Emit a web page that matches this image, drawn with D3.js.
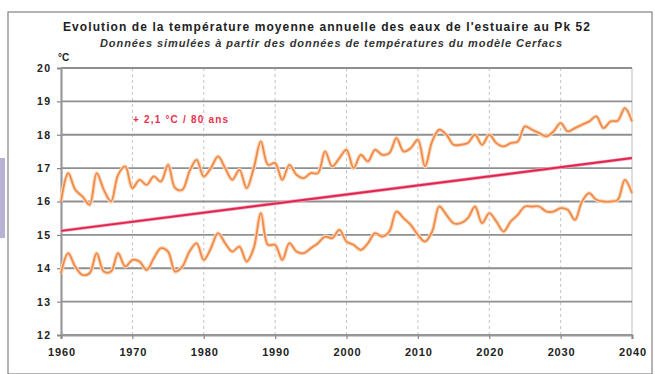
<!DOCTYPE html>
<html><head><meta charset="utf-8">
<script src="https://cdn.jsdelivr.net/npm/d3@7"></script>
<style>body{margin:0;background:#fff}svg{display:block}text{font-family:"Liberation Sans",Arial,sans-serif}</style>
</head><body>
<svg id="c" width="655" height="374"></svg>
<script>
const years = d3.range(1960, 2041);
const upperSeries = [16.0,16.85,16.35,16.15,15.9,16.85,16.35,16.0,16.8,17.05,
16.4,16.65,16.5,16.75,16.6,17.1,16.4,16.35,16.9,17.25,
16.75,17.0,17.35,17.0,16.65,16.95,16.4,17.0,17.8,17.1,
17.15,16.65,17.1,16.8,16.7,16.85,16.85,17.5,17.05,17.3,
17.55,17.0,17.4,17.2,17.55,17.4,17.45,17.9,17.5,17.6,
17.85,17.05,17.8,18.15,18.0,17.7,17.7,17.75,18.0,17.7,
18.0,17.75,17.65,17.75,17.8,18.25,18.15,18.05,17.95,18.1,
18.35,18.1,18.2,18.3,18.4,18.55,18.2,18.4,18.42,18.8,18.4];
const lowerSeries = [13.85,14.45,14.05,13.8,13.85,14.45,13.9,13.9,14.45,14.05,
14.25,14.2,13.95,14.3,14.6,14.5,13.9,14.05,14.5,14.75,
14.25,14.6,15.05,14.75,14.5,14.65,14.2,14.6,15.65,14.7,
14.7,14.25,14.75,14.5,14.45,14.6,14.75,14.95,14.9,15.15,
14.8,14.7,14.55,14.75,15.05,14.95,15.1,15.7,15.5,15.3,
15.0,14.8,15.1,15.85,15.6,15.35,15.35,15.5,15.85,15.35,
15.65,15.4,15.1,15.4,15.6,15.85,15.85,15.85,15.7,15.7,
15.8,15.75,15.45,16.0,16.25,16.05,16.0,16.0,16.05,16.65,16.25];
const trendYears = [1960, 2040];
const trendValues = [15.12, 17.3];
const xTicks = [1960,1970,1980,1990,2000,2010,2020,2030,2040];
const yTicks = [12,13,14,15,16,17,18,19,20];
const titleText = "Evolution de la température moyenne annuelle des eaux de l'estuaire au Pk 52";
const subtitleText = "Données simulées à partir des données de températures du modèle Cerfacs";
const trendLabel = "+ 2,1 °C / 80 ans";
const unitLabel = "°C";

const svg = d3.select("#c");
const x = d3.scaleLinear().domain([1960, 2040]).range([61, 632]);
const y = d3.scaleLinear().domain([12, 20]).range([335, 68]);

// page artefacts
svg.append("rect").attr("x",0).attr("y",158).attr("width",5).attr("height",80).attr("fill","#b9b2d6");
svg.append("rect").attr("x",8).attr("y",12).attr("width",644).attr("height",362)
  .attr("fill","#fff").attr("stroke","#8c8c8c").attr("stroke-width",1.3);

// titles
svg.append("text").attr("x",63).attr("y",31)
  .attr("font-size",12).attr("font-weight","bold").attr("fill","#222")
  .attr("textLength",527).attr("lengthAdjust","spacing").text(titleText);
svg.append("text").attr("x",100).attr("y",47)
  .attr("font-size",11).attr("font-style","italic").attr("font-weight","bold").attr("fill","#333")
  .attr("textLength",462).attr("lengthAdjust","spacing").text(subtitleText);

// vertical dashed grid
svg.append("g").selectAll("line").data(xTicks.slice(1,-1)).join("line")
  .attr("x1",d=>x(d)).attr("x2",d=>x(d)).attr("y1",y(20)).attr("y2",y(12))
  .attr("stroke","#c4c4c4").attr("stroke-width",1).attr("stroke-dasharray","3,3");
// right border
svg.append("line").attr("x1",x(2040)).attr("x2",x(2040)).attr("y1",y(20)).attr("y2",y(12))
  .attr("stroke","#c8c8c8").attr("stroke-width",1.2);
// horizontal grid
svg.append("g").selectAll("line").data(yTicks).join("line")
  .attr("x1",x(1960)).attr("x2",x(2040)).attr("y1",d=>y(d)).attr("y2",d=>y(d))
  .attr("stroke","#8f8f8f").attr("stroke-width",1.8);

// axes
const yAxis = svg.append("g").attr("transform",`translate(${x(1960)},0)`)
  .call(d3.axisLeft(y).tickValues(yTicks).tickSize(4).tickPadding(7).tickFormat(d3.format("d")));
const xAxis = svg.append("g").attr("transform",`translate(0,${y(12)})`)
  .call(d3.axisBottom(x).tickValues(xTicks).tickSize(4).tickPadding(9).tickFormat(d3.format("d")));
[yAxis,xAxis].forEach(a=>{
  a.select(".domain").attr("stroke","#999").attr("stroke-width",2.2);
  a.selectAll(".tick line").attr("stroke","#888").attr("stroke-width",1.2);
  a.selectAll("text").attr("font-size",10.5).attr("font-weight","bold").attr("fill","#222")
    .attr("font-family","'Liberation Sans',Arial,sans-serif");
});
xAxis.selectAll("text").attr("font-size",11).attr("textLength",27).attr("lengthAdjust","spacing");
yAxis.selectAll("text").attr("textLength",13).attr("lengthAdjust","spacing");
svg.append("text").attr("x",58).attr("y",61).attr("font-size",10).attr("font-weight","bold").attr("fill","#222").text(unitLabel);

// series
const line = d3.line().x((d,i)=>x(years[i])).y(d=>y(d)).curve(d3.curveCatmullRom.alpha(0.5));
[upperSeries, lowerSeries].forEach(s=>{
  svg.append("path").attr("d",line(s)).attr("fill","none").attr("stroke","#fcd8bd").attr("stroke-width",4).attr("stroke-linejoin","round");
  svg.append("path").attr("d",line(s)).attr("fill","none").attr("stroke","#ef8a48").attr("stroke-width",1.8).attr("stroke-linejoin","round");
});
// trend
const tline = d3.line().x((d,i)=>x(trendYears[i])).y(d=>y(d));
svg.append("path").attr("d",tline(trendValues)).attr("fill","none").attr("stroke","#f3a0b4").attr("stroke-width",3.5);
svg.append("path").attr("d",tline(trendValues)).attr("fill","none").attr("stroke","#e0264f").attr("stroke-width",2);

svg.append("text").attr("x",133).attr("y",123).attr("font-size",10).attr("font-weight","bold").attr("fill","#e8324e")
  .attr("textLength",95).attr("lengthAdjust","spacing").text(trendLabel);
</script>
</body></html>
